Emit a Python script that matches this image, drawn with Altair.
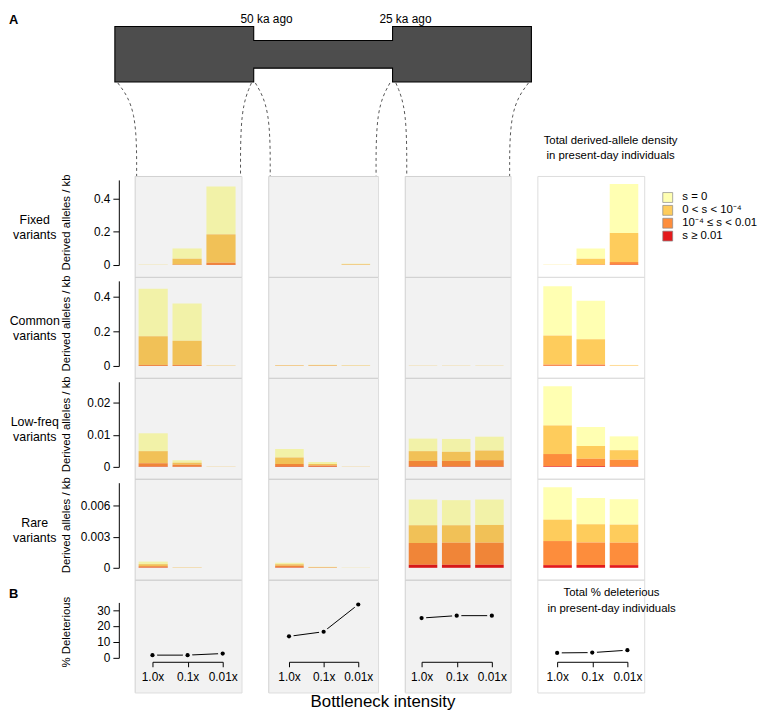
import altair as alt
import pandas as pd

FONT = "Liberation Sans, Arial, Helvetica, sans-serif"

BNECK = ["1.0x", "0.1x", "0.01x"]
EPOCHS = ["anc", "bot", "rec", "tot"]
CLASSES = ["s = 0", "0 < s < 10⁻⁴", "10⁻⁴ ≤ s < 0.01", "s ≥ 0.01"]
CLASS_COLORS = ["#ffffb2", "#fecc5c", "#fd8d3c", "#e31a1c"]
ROW_NAMES = ["Fixed\nvariants", "Common\nvariants", "Low-freq\nvariants", "Rare\nvariants"]
ROW_TICKS = [[0, 0.2, 0.4], [0, 0.2, 0.4], [0, 0.01, 0.02], [0, 0.003, 0.006]]
ROW_YMAX = [0.513, 0.493, 0.0265, 0.00824]

# each list: anc (1.0x, 0.1x, 0.01x) | bot (...) | rec (...) | tot (...)
fixed_s0 = [0.001, 0.062, 0.289, 0, 0, 0.004, 0, 0, 0, 0.001, 0.062, 0.295]
fixed_mild = [0.0008, 0.035, 0.171, 0, 0, 0.003, 0, 0, 0, 0.0008, 0.035, 0.175]
fixed_mod = [0.0002, 0.003, 0.013, 0, 0, 0.001, 0, 0, 0, 0.0002, 0.003, 0.016]
fixed_strong = [0, 0, 0.001, 0, 0, 0, 0, 0, 0, 0, 0, 0.002]

common_s0 = [0.276, 0.216, 0.0015, 0.0025, 0.003, 0.002, 0.001, 0.001, 0.001, 0.286, 0.223, 0.003]
common_mild = [0.166, 0.140, 0.001, 0.002, 0.003, 0.0015, 0.0008, 0.0008, 0.0008, 0.168, 0.147, 0.002]
common_mod = [0.0055, 0.0055, 0.0005, 0.0005, 0.001, 0.0005, 0.0002, 0.0002, 0.0002, 0.007, 0.007, 0.001]
common_strong = [0.0005, 0.0005, 0, 0, 0, 0, 0, 0, 0, 0.001, 0.001, 0]

lowfreq_s0 = [0.00556, 0.00075, 0.00005, 0.0027, 0.0006, 0.00005, 0.0039, 0.004, 0.0043, 0.0122, 0.0059, 0.0043]
lowfreq_mild = [0.00377, 0.0006, 0.00003, 0.002, 0.0005, 0.00003, 0.00305, 0.00285, 0.003, 0.0089, 0.004, 0.003]
lowfreq_mod = [0.00105, 0.00065, 0.00002, 0.00085, 0.00037, 0.00002, 0.00175, 0.00175, 0.002, 0.0038, 0.0023, 0.0021]
lowfreq_strong = [0.00008, 0.00005, 0, 0.00005, 0.00003, 0, 0.0001, 0.0001, 0.0001, 0.0002, 0.0002, 0.0001]

rare_s0 = [0.00025, 0.00002, 0, 0.00015, 0.00003, 0.00001, 0.00249, 0.00243, 0.00246, 0.00314, 0.00255, 0.00246]
rare_mild = [0.00019, 0.00002, 0, 0.00015, 0.00004, 0.00001, 0.00172, 0.00169, 0.00172, 0.00207, 0.00176, 0.00175]
rare_mod = [0.00014, 0.00001, 0, 0.00018, 0.00003, 0, 0.00211, 0.00214, 0.00214, 0.00233, 0.0022, 0.00217]
rare_strong = [0.00002, 0, 0, 0.00002, 0, 0, 0.00029, 0.00029, 0.00029, 0.00026, 0.00026, 0.00026]

pct_deleterious = [1.7, 1.7, 2.7, 13.5, 16.4, 33.5, 25.0, 26.5, 26.5, 3.1, 3.3, 4.8]

# demographic model: epochs (start, end in ka ago) and relative population size
EPOCH_START = [75, 50, 25]
EPOCH_END = [50, 25, 0]
EPOCH_SIZE = [1.0, 0.5, 1.0]
EPOCH_LABELS = ["50 ka ago", "25 ka ago"]
EPOCH_LABEL_T = [50, 25]

ROWS = [
    [fixed_s0, fixed_mild, fixed_mod, fixed_strong],
    [common_s0, common_mild, common_mod, common_strong],
    [lowfreq_s0, lowfreq_mild, lowfreq_mod, lowfreq_strong],
    [rare_s0, rare_mild, rare_mod, rare_strong],
]

# ---------- layout constants ----------
COL_W = [108, 111, 107, 108]
COL_GAP = 27
ROW_H = 102
ROW_B_H = 114
BAR_RANGE = [[4, 102], [7, 103], [4, 100], [6, 102]]
PT_RANGE = [[18, 89], [21, 91], [17, 88], [20, 91]]
col_left = [0]
for w in COL_W[:-1]:
    col_left.append(col_left[-1] + w + COL_GAP)

# scales for the schematic (pixels relative to first panel)
SH_X_RANGE = [401, -20]  # for domain [0, 75]
SH_Y_RANGE = [-95, -151]  # for domain [-0.5, 0.5]
PX_PER_KA = (SH_X_RANGE[0] - SH_X_RANGE[1]) / 75.0


def px_to_ka(px):
    return (SH_X_RANGE[0] - px) / PX_PER_KA


def py_to_size(py):
    return -0.5 + (SH_Y_RANGE[0] - py) / (SH_Y_RANGE[0] - SH_Y_RANGE[1])


# bar data
recs = []
for r, cls_lists in enumerate(ROWS):
    for k, vals in enumerate(cls_lists):
        for e in range(4):
            for b in range(3):
                recs.append({"row": r, "epoch": EPOCHS[e], "bneck": BNECK[b],
                             "cls": CLASSES[k], "rank": 3 - k, "val": vals[e * 3 + b]})
bars_df = pd.DataFrame(recs)

del_df = pd.DataFrame([{"epoch": EPOCHS[e], "bneck": BNECK[b], "pct": pct_deleterious[e * 3 + b]}
                       for e in range(4) for b in range(3)])

# outline of the demographic schematic (epoch edges, a hair apart so the path order is unambiguous)
EPS = 1e-3
shape_pts = []
for s, e, z in zip(EPOCH_START, EPOCH_END, EPOCH_SIZE):
    shape_pts.append({"t": s - EPS, "lo": -z / 2, "hi": z / 2})
    shape_pts.append({"t": e + EPS, "lo": -z / 2, "hi": z / 2})
shape_df = pd.DataFrame(shape_pts)

LEGEND = alt.Legend(title=None, orient="none", legendX=533, legendY=16, symbolType="square",
                    symbolSize=100, symbolStrokeColor="#888888", symbolStrokeWidth=0.7,
                    symbolOpacity=1, labelFontSize=11.5, labelFont=FONT, rowPadding=-1.5,
                    labelOffset=9, labelLimit=300)

one = pd.DataFrame({"a": [0]})


def overlay(w, h):
    return alt.Chart(one).mark_rect(color="black", opacity=0.05).encode(
        x=alt.value(0), x2=alt.value(w), y=alt.value(0), y2=alt.value(h))


def text_at(txt, x, y, size=12, **kw):
    return alt.Chart(one).mark_text(font=FONT, fontSize=size, color="black", lineBreak="\n", **kw).encode(
        x=alt.value(x), y=alt.value(y), text=alt.value(txt))


def bar_panel(r, c):
    w = COL_W[c]
    d = bars_df[(bars_df.row == r) & (bars_df.epoch == EPOCHS[c])]
    if c == 0:
        yaxis = alt.Axis(values=ROW_TICKS[r], labelExpr="datum.value + ''", offset=16, tickSize=6,
                         labelPadding=3, title=None, grid=False, labelFontSize=12, labelFont=FONT,
                         domainColor="black", tickColor="black", labelColor="black")
    else:
        yaxis = None
    bars = alt.Chart(d).mark_bar(opacity=1).encode(
        x=alt.X("bneck:N", sort=BNECK, axis=None,
                scale=alt.Scale(range=BAR_RANGE[c], paddingInner=0.14, paddingOuter=0)),
        y=alt.Y("val:Q", stack="zero", axis=yaxis,
                scale=alt.Scale(domain=[0, ROW_YMAX[r]], range=[90, 4], nice=False)),
        color=alt.Color("cls:N", scale=alt.Scale(domain=CLASSES, range=CLASS_COLORS), legend=LEGEND),
        order=alt.Order("rank:Q", sort="ascending"),
    )
    layers = [bars]
    if c < 3:
        layers.append(overlay(w, ROW_H))
    if c == 0:
        layers.append(text_at(ROW_NAMES[r], -101, 39, size=12.5, lineHeight=15, align="center", baseline="top"))
        layers.append(text_at("Derived alleles / kb", -68, 47, size=11.5, angle=270, align="center", baseline="middle"))
    if r == 0 and c == 0:
        layers.append(text_at("A", -127, -158, size=13, fontWeight="bold", align="left", baseline="middle"))
        sx = alt.Scale(domain=[0, 75], range=SH_X_RANGE)
        sy = alt.Scale(domain=[-0.5, 0.5], range=SH_Y_RANGE, nice=False, zero=False)
        shape = alt.Chart(shape_df).mark_area(fill="#4d4d4d", stroke="black", strokeWidth=1.1,
                                              interpolate="linear", opacity=1).encode(
            x=alt.X("t:Q", scale=sx, axis=None),
            y=alt.Y("lo:Q", scale=sy, axis=None),
            y2="hi:Q",
        )
        # dashed connectors: from the schematic's epoch edges to the panels' edges
        ends = [(-17, 2), (118, COL_W[0] - 1), (122, col_left[1] + 2), (258, col_left[1] + COL_W[1] - 2),
                (264, col_left[2] + 2), (398, col_left[2] + COL_W[2] - 1)]
        crecs = []
        for j, (ux, lx) in enumerate(ends):
            top = SH_Y_RANGE[0] + 1
            for i, (px, py) in enumerate([(ux, top), (lx, top + 26), (lx, 0)]):
                crecs.append({"curve": j, "i": i, "t": px_to_ka(px), "s": py_to_size(py)})
        conn = alt.Chart(pd.DataFrame(crecs)).mark_line(
            color="#555555", strokeWidth=1, strokeDash=[3, 3], interpolate="basis").encode(
            x=alt.X("t:Q", scale=sx, axis=None),
            y=alt.Y("s:Q", scale=sy, axis=None),
            detail="curve:N",
            order=alt.Order("i:Q"),
        )
        lab_df = pd.DataFrame({"t": EPOCH_LABEL_T, "label": EPOCH_LABELS})
        labs = alt.Chart(lab_df).mark_text(font=FONT, fontSize=12, color="black", baseline="top",
                                           align="center", dx=13).encode(
            x=alt.X("t:Q", scale=sx, axis=None),
            y=alt.value(-164),
            text="label:N",
        )
        layers += [shape, conn, labs]
    if r == 0 and c == 3:
        layers.append(text_at("Total derived-allele density\nin present-day individuals", 74, -41,
                              size=11.5, lineHeight=15, align="center", baseline="top"))
    ch = alt.layer(*layers).properties(width=w, height=ROW_H)
    if r == 0 and c == 0:
        ch = ch.resolve_scale(x="independent", y="independent")
    return ch


def del_panel(c):
    w = COL_W[c]
    d = del_df[del_df.epoch == EPOCHS[c]]
    xenc = alt.X("bneck:N", sort=BNECK,
                 scale=alt.Scale(type="point", range=PT_RANGE[c], padding=0),
                 axis=alt.Axis(title=None, labelAngle=0, offset=-(ROW_B_H - 83), tickSize=5,
                               labelPadding=5, labelFontSize=12, labelFont=FONT, grid=False,
                               domainColor="black", tickColor="black", labelColor="black"))
    if c == 0:
        yaxis = alt.Axis(values=[0, 10, 20, 30], offset=16, tickSize=6, labelPadding=3, title=None,
                         grid=False, labelFontSize=12, labelFont=FONT, domainColor="black",
                         tickColor="black", labelColor="black")
    else:
        yaxis = None
    yenc = alt.Y("pct:Q", axis=yaxis, scale=alt.Scale(domain=[0, 34.8], range=[79, 23], nice=False))
    base = alt.Chart(d).encode(x=xenc, y=yenc)
    line = base.mark_line(color="black", strokeWidth=1)
    halo = base.mark_point(filled=True, size=90, color="white", opacity=1)
    dot = base.mark_point(filled=True, size=18, color="black", opacity=1)
    layers = [line, halo, dot]
    if c < 3:
        layers.append(overlay(w, ROW_B_H))
    if c == 0:
        layers.append(text_at("B", -127, 15, size=13, fontWeight="bold", align="left", baseline="middle"))
        layers.append(text_at("% Deleterious", -68, 53, size=11.5, angle=270, align="center", baseline="middle"))
        layers.append(text_at("Bottleneck intensity", 386 - 135, 124, size=17, align="center", baseline="middle"))
    if c == 3:
        layers.append(text_at("Total % deleterious\nin present-day individuals", 75, 8,
                              size=11.5, lineHeight=16, align="center", baseline="top"))
    return alt.layer(*layers).properties(width=w, height=ROW_B_H)


panels = []
for r in range(4):
    for c in range(4):
        panels.append(bar_panel(r, c))
for c in range(4):
    panels.append(del_panel(c))

chart = alt.ConcatChart(concat=panels, columns=4, spacing={"row": 0, "column": COL_GAP},
                        bounds="flush", align="each", padding=0)
chart = chart.configure_view(stroke=None).configure(font=FONT)

chart.save("out.html", embed_options={"renderer": "svg", "actions": False})
